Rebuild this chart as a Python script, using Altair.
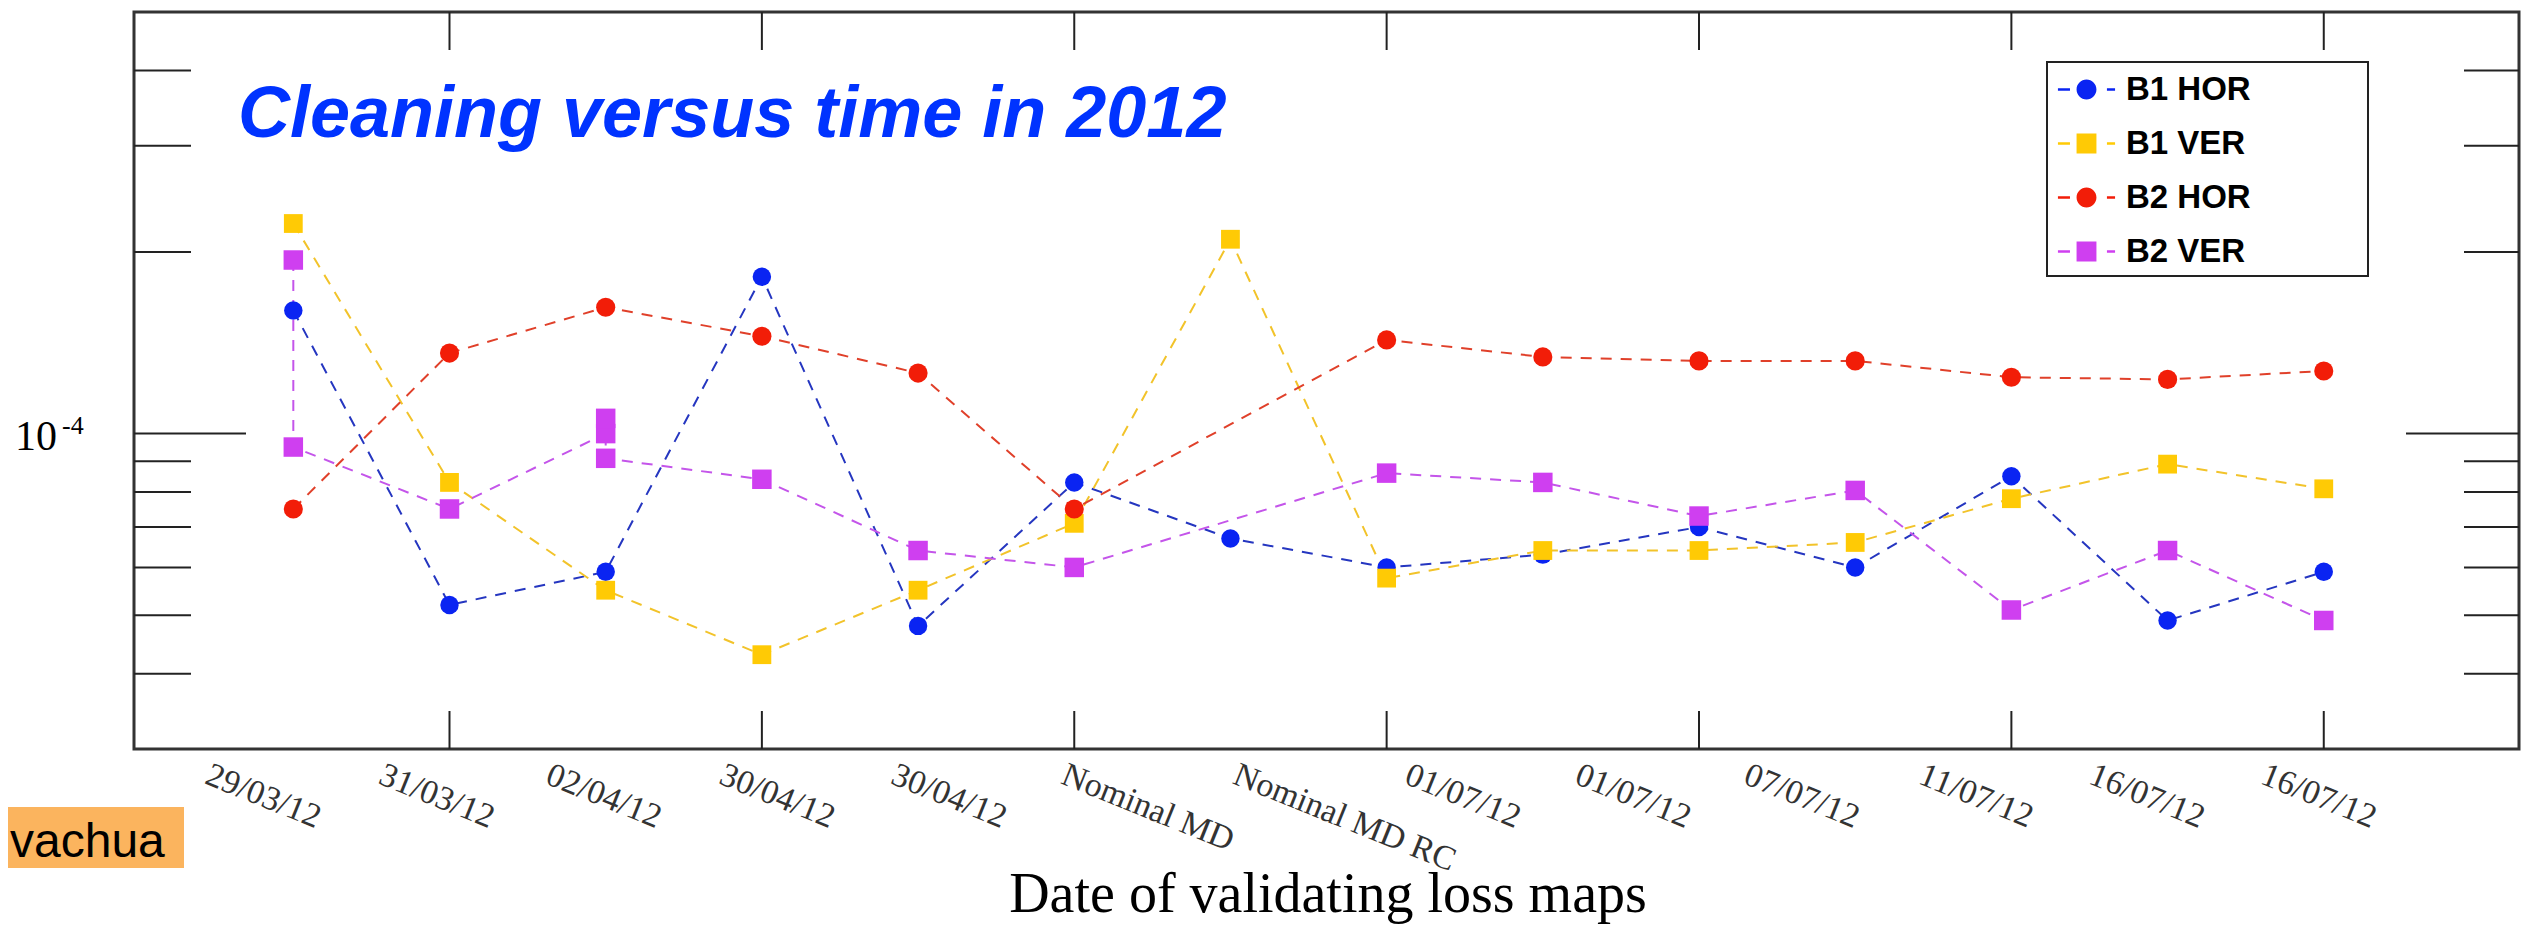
import altair as alt
import pandas as pd

# ---------------- data ----------------
SERIES = ["B1 HOR", "B1 VER", "B2 HOR", "B2 VER"]

B1_HOR_X = [1, 2, 3, 4, 5, 6, 7, 8, 9, 10, 11, 12, 13, 14]
B1_HOR = [1.60e-4, 5.2e-5, 5.9e-5, 1.82e-4, 4.8e-5, 8.3e-5, 6.7e-5,
          6.0e-5, 6.3e-5, 7.0e-5, 6.0e-5, 8.5e-5, 4.9e-5, 5.9e-5]

B1_VER_X = [1, 2, 3, 4, 5, 6, 7, 8, 9, 10, 11, 12, 13, 14]
B1_VER = [2.23e-4, 8.3e-5, 5.5e-5, 4.3e-5, 5.5e-5, 7.1e-5, 2.10e-4,
          5.76e-5, 6.4e-5, 6.4e-5, 6.6e-5, 7.8e-5, 8.9e-5, 8.1e-5]

B2_HOR_X = [1, 2, 3, 4, 5, 6, 8, 9, 10, 11, 12, 13, 14]
B2_HOR = [7.5e-5, 1.36e-4, 1.62e-4, 1.45e-4, 1.26e-4, 7.5e-5, 1.43e-4,
          1.34e-4, 1.32e-4, 1.32e-4, 1.24e-4, 1.23e-4, 1.27e-4]

B2_VER_X = [1, 1, 2, 3, 3, 3, 4, 5, 6, 8, 9, 10, 11, 12, 13, 14]
B2_VER = [1.94e-4, 9.5e-5, 7.5e-5, 1.0e-4, 1.06e-4, 9.1e-5, 8.4e-5, 6.4e-5,
          6.0e-5, 8.6e-5, 8.3e-5, 7.3e-5, 8.05e-5, 5.1e-5, 6.4e-5, 4.9e-5]

CATEGORY_LABELS = ["29/03/12", "31/03/12", "02/04/12", "30/04/12", "30/04/12",
                   "Nominal MD", "Nominal MD RC", "01/07/12", "01/07/12",
                   "07/07/12", "11/07/12", "16/07/12", "16/07/12"]
LABEL_POS = [0.49, 1.60, 2.67, 3.78, 4.88, 5.97, 7.07, 8.17, 9.26, 10.34,
             11.46, 12.55, 13.65]

X_TICKS = [2, 4, 6, 8, 10, 12, 14]
Y_MINOR_TICKS = [4e-5, 5e-5, 6e-5, 7e-5, 8e-5, 9e-5, 2e-4, 3e-4, 4e-4]
Y_MAJOR_TICKS = [1e-4]
Y_MAJOR_BASE = ["10"]
Y_MAJOR_EXP = ["-4"]

TITLE = "Cleaning versus time in 2012"
X_TITLE = "Date of validating loss maps"
TAG = "vachua"

# ---------------- styling ----------------
LINE_COLORS = ["#2536c0", "#f2c32a", "#e0402a", "#c455ea"]
POINT_COLORS = ["#0a24f2", "#ffca05", "#f21d08", "#cf3ff0"]
POINT_SHAPES = ["circle", "square", "circle", "square"]
POINT_SIZES = [340, 380, 340, 380]
DASH_L = "M-2.04,-0.09H-1.18V0.09H-2.04Z"
DASH_R = "M1.46,-0.09H2.04V0.09H1.46Z"
CIRC = "M-0.71,0A0.71,0.71,0,1,1,0.71,0A0.71,0.71,0,1,1,-0.71,0Z"
SQR = "M-0.71,-0.71H0.71V0.71H-0.71Z"
LEGEND_SHAPES = [f"{DASH_L} {CIRC} {DASH_R}", f"{DASH_L} {SQR} {DASH_R}",
                 f"{DASH_L} {CIRC} {DASH_R}", f"{DASH_L} {SQR} {DASH_R}"]

W, H = 2385, 737

rows = []
for name, xs, ys in [("B1 HOR", B1_HOR_X, B1_HOR), ("B1 VER", B1_VER_X, B1_VER),
                     ("B2 HOR", B2_HOR_X, B2_HOR), ("B2 VER", B2_VER_X, B2_VER)]:
    for i, (xv, yv) in enumerate(zip(xs, ys)):
        rows.append({"series": name, "x": xv, "value": yv, "order": i})
df = pd.DataFrame(rows)

xscale = alt.Scale(domain=[-0.02, 15.25], nice=False, zero=False)
yscale = alt.Scale(type="log", domain=[3e-5, 5e-4], nice=False)

X = lambda f: alt.X(f, scale=xscale, axis=None)
Y = lambda f: alt.Y(f, scale=yscale, axis=None)

lines = alt.Chart(df).mark_line(strokeDash=[11, 9], strokeWidth=2).encode(
    x=X("x:Q"), y=Y("value:Q"),
    color=alt.Color("series:N", scale=alt.Scale(domain=SERIES, range=LINE_COLORS), legend=None),
    order="order:Q",
)

points = alt.Chart(df).mark_point(filled=True, opacity=1, strokeWidth=0).encode(
    x=X("x:Q"), y=Y("value:Q"),
    color=alt.Color("series:N", scale=alt.Scale(domain=SERIES, range=POINT_COLORS), legend=None),
    shape=alt.Shape("series:N", scale=alt.Scale(domain=SERIES, range=POINT_SHAPES), legend=None),
    size=alt.Size("series:N", scale=alt.Scale(domain=SERIES, range=POINT_SIZES), legend=None),
)

legend = alt.Legend(title=None, orient="none", legendX=1913, legendY=48, padding=13,
                    symbolSize=784, symbolStrokeWidth=0, symbolOffset=10,
                    labelOffset=23, rowPadding=20, labelFont="Liberation Sans",
                    labelFontSize=33, labelFontWeight="bold", labelColor="black",
                    labelLimit=400)
legend_layer = alt.Chart(df).transform_filter("false").mark_point(
    filled=True, opacity=1, strokeWidth=0).encode(
    x=X("x:Q"), y=Y("value:Q"),
    color=alt.Color("series:N", scale=alt.Scale(domain=SERIES, range=POINT_COLORS), legend=legend),
    shape=alt.Shape("series:N", scale=alt.Scale(domain=SERIES, range=LEGEND_SHAPES), legend=legend),
)
legend_box = alt.Chart(alt.Data(values=[{"k": 0}])).mark_rect(
    fill="white", stroke="#222222", strokeWidth=2).encode(
    x=alt.value(1913), x2=alt.value(2234), y=alt.value(50), y2=alt.value(264))

# inward frame ticks
xt = pd.DataFrame({"x": X_TICKS})
ymin = pd.DataFrame({"v": Y_MINOR_TICKS})
ymaj = pd.DataFrame({"v": Y_MAJOR_TICKS})
tick_style = dict(color="#222222", strokeWidth=2)
bx = alt.Chart(xt).mark_rule(**tick_style).encode(x=X("x:Q"), y=alt.value(H), y2=alt.value(H - 38))
tx = alt.Chart(xt).mark_rule(**tick_style).encode(x=X("x:Q"), y=alt.value(0), y2=alt.value(38))
ly = alt.Chart(ymin).mark_rule(**tick_style).encode(y=Y("v:Q"), x=alt.value(0), x2=alt.value(57))
ry = alt.Chart(ymin).mark_rule(**tick_style).encode(y=Y("v:Q"), x=alt.value(W), x2=alt.value(W - 55))
lY = alt.Chart(ymaj).mark_rule(**tick_style).encode(y=Y("v:Q"), x=alt.value(0), x2=alt.value(112))
rY = alt.Chart(ymaj).mark_rule(**tick_style).encode(y=Y("v:Q"), x=alt.value(W), x2=alt.value(W - 113))

# tick labels (x) placed through the x scale
xlab_df = pd.DataFrame({"pos": LABEL_POS, "label": CATEGORY_LABELS})
xlabels = alt.Chart(xlab_df).mark_text(
    align="left", baseline="top", angle=22, font="Liberation Serif",
    fontSize=34, color="#333333").encode(
    x=X("pos:Q"), y=alt.value(H + 9), text="label:N")

# y label 10^-4 placed through the y scale
ylab_df = pd.DataFrame({"v": Y_MAJOR_TICKS, "base": Y_MAJOR_BASE, "exp": Y_MAJOR_EXP})
ybase = alt.Chart(ylab_df).mark_text(
    align="right", baseline="alphabetic", dy=16, font="Liberation Serif",
    fontSize=42, color="black").encode(y=Y("v:Q"), x=alt.value(-77), text="base:N")
yexp = alt.Chart(ylab_df).mark_text(
    align="left", baseline="alphabetic", dy=0, font="Liberation Serif",
    fontSize=26, color="black").encode(y=Y("v:Q"), x=alt.value(-72), text="exp:N")

xtitle = alt.Chart(alt.Data(values=[{"t": X_TITLE}])).mark_text(
    align="center", baseline="alphabetic", font="Liberation Serif", fontSize=56,
    color="black").encode(x=alt.value(1194), y=alt.value(H + 163), text="t:N")

title = alt.Chart(alt.Data(values=[{"t": TITLE}])).mark_text(
    align="left", baseline="alphabetic", font="Liberation Sans", fontSize=72,
    fontStyle="italic", fontWeight="bold", color="#0033ff").encode(
    x=alt.value(104), y=alt.value(125), text="t:N")

tag_box = alt.Chart(alt.Data(values=[{"t": TAG}])).mark_rect(color="#fbb45e").encode(
    x=alt.value(-126), x2=alt.value(50), y=alt.value(795), y2=alt.value(856))
tag_text = alt.Chart(alt.Data(values=[{"t": TAG}])).mark_text(
    align="left", baseline="alphabetic", font="Liberation Sans", fontSize=48,
    color="black").encode(x=alt.value(-124), y=alt.value(845), text="t:N")

chart = alt.layer(
    bx, tx, ly, ry, lY, rY, legend_box, lines, points, legend_layer,
    xlabels, ybase, yexp, xtitle, title, tag_box, tag_text
).resolve_scale(color="independent", shape="independent").properties(
    width=W, height=H,
    autosize=alt.AutoSizeParams(type="none"),
    padding={"left": 126, "top": 4, "right": 2, "bottom": 176},
    background="white",
).configure_view(stroke="#333333", strokeWidth=3)

chart.save("out.html", embed_options={"renderer": "svg", "actions": False})
